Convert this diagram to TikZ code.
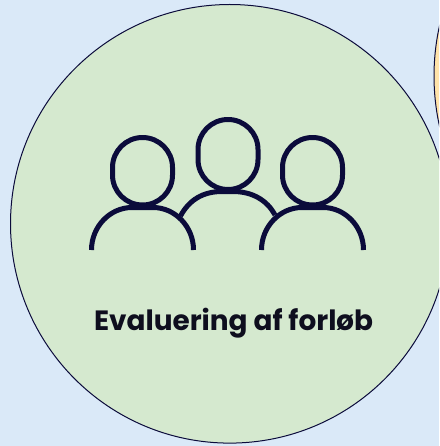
\documentclass[tikz,border=0pt]{standalone}
\usepackage{fontspec}
\setmainfont{Poppins}
\definecolor{bgblue}{HTML}{DAE9F8}
\definecolor{circgreen}{HTML}{D5E9CF}
\definecolor{circyellow}{HTML}{FFE3A9}
\definecolor{navy}{HTML}{0B0B3B}
\definecolor{inktext}{HTML}{0E0E1E}
\tikzset{
  disc/.style={draw=navy,line width=1pt},
  figure/.style={draw=navy,line width=5pt,line cap=butt,line join=round},
  label/.style={text=inktext,font=\fontsize{27.9}{32}\selectfont\bfseries,inner sep=0pt,anchor=base}
}
\newcommand\headloop[3]{\draw[figure] (#1-30,#2+30) arc[start angle=180,end angle=0,radius=30pt] -- ++(0,#3) arc[start angle=0,end angle=-180,radius=30pt] -- cycle;}
\begin{document}
\begin{tikzpicture}[x=1pt,y=-1pt]
\useasboundingbox (0,0) rectangle (439,446);
\fill[bgblue] (0,0) rectangle (439,446);
\clip (0,0) rectangle (439,446);
\draw[disc,fill=circyellow] (664,76) circle[radius=230];
\draw[disc,fill=circgreen] (229.8,223.8) circle[radius=219.3];
\headloop{228}{119.5}{10}
\headloop{142.5}{137.5}{7.5}
\headloop{312.5}{137.5}{7.5}
\draw[figure] (180.5,216) .. controls (189,200) and (203,191.5) .. (222,191.5) -- (233,191.5) .. controls (252,191.5) and (267,200) .. (275,215);
\draw[figure] (91.5,250) .. controls (91.5,226.5) and (110,207.5) .. (132,207.5) -- (153,207.5) .. controls (175,207.5) and (193.5,226.5) .. (193.5,250);
\draw[figure] (261.5,250) .. controls (261.5,226.5) and (280,207.5) .. (302,207.5) -- (323,207.5) .. controls (345,207.5) and (363.5,226.5) .. (363.5,250);
\node[label] (caption) at (233.5,330) {Evaluering af forløb};
\end{tikzpicture}
\end{document}
